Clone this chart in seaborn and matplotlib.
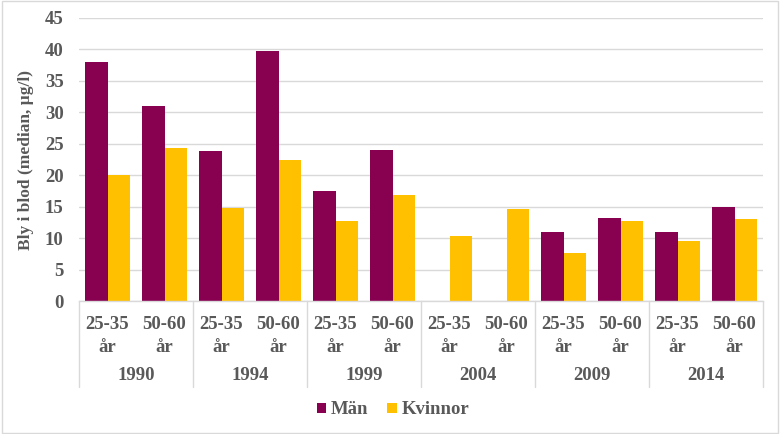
import numpy as np
import pandas as pd
import matplotlib
matplotlib.use("Agg")
import matplotlib.pyplot as plt
from matplotlib.patches import Patch
import seaborn as sns

years = ["1990", "1994", "1999", "2004", "2009", "2014"]
ages = ["25-35\når", "50-60\når"]
man = [38.0, 31.0, 23.8, 39.7, 17.5, 24.0, np.nan, np.nan, 10.9, 13.2, 10.9, 15.0]
kvinnor = [20.0, 24.3, 14.8, 22.4, 12.7, 16.9, 10.4, 14.7, 7.6, 12.7, 9.6, 13.0]
series = ["Män", "Kvinnor"]
colors = ["#880050", "#FFC000"]

cats = [f"{y}|{a}" for y in years for a in ages]
df = pd.DataFrame({
    "cat": cats * 2,
    "sex": [series[0]] * len(cats) + [series[1]] * len(cats),
    "val": man + kvinnor,
})

sns.set_theme(style="white")
fam = ["Liberation Serif", "DejaVu Serif"]
plt.rcParams["font.family"] = fam
plt.rcParams["font.weight"] = "bold"
txtc = "#595959"
fs = 13.5

fig = plt.figure(figsize=(7.8, 4.34), dpi=100)
ax = fig.add_axes([79/780, 1 - 301/434, (763 - 79)/780, (301 - 18)/434])

sns.barplot(data=df, x="cat", y="val", hue="sex", order=cats, hue_order=series,
            palette=colors, width=0.79, saturation=1, ax=ax, legend=False,
            linewidth=0)

ax.set_ylim(0, 45)
ax.set_xlim(-0.5, len(cats) - 0.5)
ax.set_yticks(np.arange(0, 46, 5))
ax.yaxis.grid(True, color="#D9D9D9", linewidth=1)
ax.set_axisbelow(True)
for s in ["top", "right", "left"]:
    ax.spines[s].set_visible(False)
ax.spines["bottom"].set_color("#D9D9D9")
ax.spines["bottom"].set_linewidth(1)
ax.tick_params(axis="both", length=0, labelsize=fs, labelcolor=txtc)
ax.tick_params(axis="y", pad=11)
ax.set_xticks(range(len(cats)))
ax.set_xticklabels([c.split("|")[1] for c in cats], fontweight="bold",
                   linespacing=1.45)
ax.tick_params(axis="x", pad=11)
for lab in ax.get_yticklabels():
    lab.set_fontweight("bold")
ax.set_xlabel("")
ax.set_ylabel("Bly i blod (median, µg/l)", fontsize=12.5, fontweight="bold",
              color=txtc, labelpad=8)

trans = ax.get_xaxis_transform()
sep_bottom = -(387 - 301) / (301 - 18)
for i in range(len(years) + 1):
    xpos = -0.5 + 2 * i
    ax.plot([xpos, xpos], [0, sep_bottom], transform=trans, color="#D9D9D9",
            linewidth=1, clip_on=False)
year_y = -(376 - 301) / (301 - 18)
for i, y in enumerate(years):
    ax.text(2 * i + 0.5, year_y, y, transform=trans, ha="center", va="center",
            fontsize=fs, fontweight="bold", color=txtc)

handles = [Patch(facecolor=c, edgecolor="none") for c in colors]
fig.legend(handles, series, loc="center", bbox_to_anchor=(393/780, 1 - 410/434),
           ncol=2, frameon=False,
           prop={"family": fam, "size": fs, "weight": "bold"},
           labelcolor=txtc, handlelength=0.5, handleheight=0.5,
           handletextpad=0.25, columnspacing=1.0)

fig.patches.append(plt.Rectangle((0.002, 0.003), 0.995, 0.994, transform=fig.transFigure,
                                 fill=False, edgecolor="#D9D9D9", linewidth=1))
fig.savefig("out.png", dpi=100, facecolor="white")
